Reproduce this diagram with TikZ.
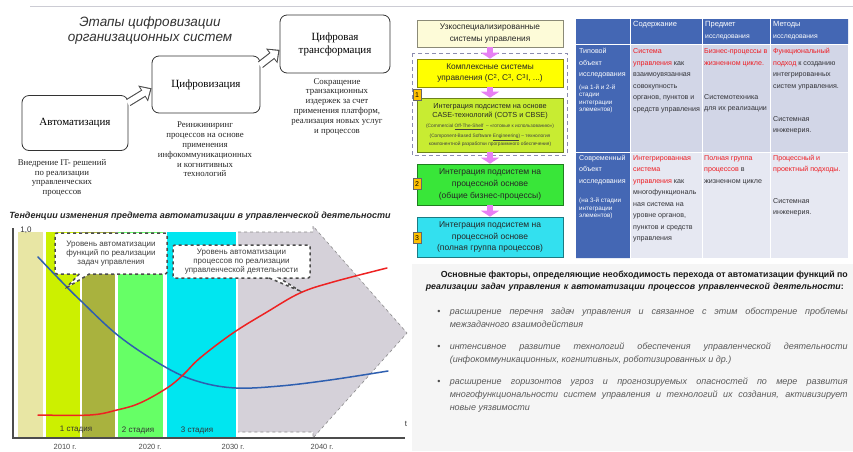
\documentclass[tikz,border=0pt]{standalone}
\usepackage{fontspec}
\setmainfont{Liberation Sans}
\newfontfamily\timesru{Liberation Serif}
\usetikzlibrary{arrows.meta,shapes.callouts}

\newlength{\du}
\setlength{\du}{1pt}

\definecolor{tabblue}{rgb}{0.267,0.404,0.706}
\definecolor{rowone}{rgb}{0.824,0.839,0.906}
\definecolor{rowtwo}{rgb}{0.902,0.910,0.949}
\definecolor{redtxt}{rgb}{0.933,0.110,0.133}
\definecolor{celltxt}{rgb}{0.20,0.20,0.22}
\definecolor{badgeor}{rgb}{1.000,0.753,0.000}
\definecolor{flowviolet}{rgb}{0.906,0.502,0.957}
\definecolor{boxcream}{rgb}{0.992,0.984,0.847}
\definecolor{boxyellow}{rgb}{1.000,1.000,0.000}
\definecolor{boxlime}{rgb}{0.784,0.925,0.196}
\definecolor{boxgreen}{rgb}{0.224,0.902,0.224}
\definecolor{boxcyan}{rgb}{0.200,0.878,0.937}
\definecolor{greyarrow}{rgb}{0.835,0.820,0.851}

\tikzset{
  stagebox/.style={draw=black!80, line width=0.8pt, rounded corners=7pt, fill=white,
    align=center, inner sep=0pt, font=\timesru\fontsize{11}{13}\selectfont},
  stagenote/.style={anchor=north, align=center, inner sep=0pt, text=black!85,
    font=\timesru\fontsize{8.8}{9.8}\selectfont},
  hollowout/.style={line width=8pt, black!70, -{Triangle[length=10pt,width=18pt]}},
  hollowin/.style={line width=5.8pt, white, -{Triangle[length=7.3pt,width=13.5pt]},
    shorten >=1.7pt, shorten <=-1pt},
  flowbox/.style={draw=#1!55!black, line width=0.6pt, fill=#1, minimum width=146\du,
    align=center, inner sep=0pt, text=black!85},
  flowarrow/.style={line width=6pt, flowviolet, -{Triangle[length=6pt,width=18pt]}},
  badge/.style={draw=black!60, line width=0.4pt, fill=badgeor, minimum width=8\du,
    minimum height=11\du, inner sep=0pt, font=\fontsize{7}{7}\selectfont},
  callbox/.style={rectangle callout, draw=black!70, dashed, fill=white, rounded corners=2pt,
    align=center, inner sep=0pt, text=black!75, callout pointer width=10\du,
    font=\fontsize{8}{8.6}\selectfont},
  chartlabel/.style={inner sep=0pt, text=black!80, font=\fontsize{8}{8}\selectfont},
  yearlabel/.style={inner sep=0pt, text=black!70, font=\fontsize{7.5}{7.5}\selectfont},
  cell/.style={anchor=north west, inner sep=0pt, align=left, text=celltxt,
    font=\fontsize{7.1}{11.5}\selectfont},
  smallcell/.style={anchor=north west, inner sep=0pt, align=left, text=white,
    font=\fontsize{6.3}{7.5}\selectfont},
  headcell/.style={anchor=north west, inner sep=0pt, align=left, text=white,
    font=\fontsize{7.5}{12}\selectfont},
  factline/.style={anchor=north west, inner sep=0pt, align=left, text=black!65,
    font=\itshape\fontsize{9}{13}\selectfont},
}

\begin{document}
\begin{tikzpicture}
\pgftransformxscale{1.000000}
\pgftransformyscale{-1.000000}
\useasboundingbox (0\du,0\du) rectangle (853\du,451\du);
% background
\fill[white] (0\du,0\du) rectangle (853\du,451\du);
\fill[black!4] (412\du,264\du) rectangle (853\du,451\du);
\draw[line width=1pt, blue!15!black!20] (30\du,6\du) -- (853\du,6\du);

% stages of digitalization
\node[font=\itshape\fontsize{13.5}{15}\selectfont, align=center, text=black!80] (title) at (150\du,31\du) {Этапы цифровизации\\организационных систем};
\node[stagebox, minimum width=106\du, minimum height=55\du] (avt) at (75\du,123\du) {Автоматизация};
\node[stagebox, minimum width=108\du, minimum height=57\du] (cif) at (206\du,84.5\du) {Цифровизация};
\node[stagebox, minimum width=110\du, minimum height=58\du] (trn) at (335\du,44\du) {Цифровая\\трансформация};
\draw[hollowout] (avt.21) -- (cif.184);
\draw[hollowin] (avt.21) -- (cif.184);
\draw[hollowout] (cif.20) -- (trn.186);
\draw[hollowin] (cif.20) -- (trn.186);
\node[stagenote] (avtnote) at (62\du,159\du) {Внедрение IT- решений\\по реализации\\управленческих\\процессов};
\node[stagenote] (cifnote) at (205\du,122\du) {Реинжиниринг\\процессов на основе\\применения\\инфокоммуникационных\\и когнитивных\\технологий};
\node[stagenote] (trnnote) at (337\du,78\du) {Сокращение\\транзакционных\\издержек за счет\\применения платформ,\\реализация новых услуг\\и процессов};

% integration of subsystems
\draw[dashed, line width=0.8pt, blue!30!black!45, dash pattern=on 4pt off 3pt] (412\du,53\du) rectangle (567\du,155\du);
\node[flowbox=boxcream, minimum height=27\du, font=\fontsize{8.3}{11.5}\selectfont] (narrow) at (490\du,33.5\du) {Узкоспециализированные\\системы управления};
\node[flowbox=boxyellow, minimum height=28\du, font=\fontsize{8.3}{12}\selectfont] (complex) at (490\du,73\du) {Комплексные системы\\управления (C\textsuperscript{2}, C\textsuperscript{3}, C\textsuperscript{3}I, ...)};
\node[flowbox=boxlime, minimum height=54\du] (casebox) at (490\du,125\du) {};
\node[inner sep=0pt, align=center, text=black!85, font=\fontsize{7.3}{8.5}\selectfont] (casetxt) at (490\du,111\du) {Интеграция подсистем на основе\\CASE-технологий (COTS и CBSE)};
\node[inner sep=0pt, text=black!75, font=\fontsize{4.8}{5}\selectfont] (cots) at (490\du,127\du) {(Commercial \underline{Off-The-Shelf}~ -- «готовые к использованию»)};
\node[inner sep=0pt, align=center, text=black!75, font=\fontsize{4.8}{5.2}\selectfont] (cbse) at (490\du,140\du) {(Component-Based Software \underline{Engineering}) -- технология\\компонентной разработки программного обеспечения)};
\node[flowbox=boxgreen, minimum height=41\du, font=\fontsize{8.5}{12}\selectfont] (common) at (490\du,184.5\du) {Интеграция подсистем на\\процессной основе\\(общие бизнес-процессы)};
\node[flowbox=boxcyan, minimum height=40\du, font=\fontsize{8.5}{11.5}\selectfont] (full) at (490\du,237\du) {Интеграция подсистем на\\процессной основе\\(полная группа процессов)};
\draw[flowarrow] (narrow.south) -- (complex.north);
\draw[flowarrow] (complex.south) -- (casebox.north);
\draw[flowarrow] (casebox.south) -- (common.north);
\draw[flowarrow] (common.south) -- (full.north);
\node[badge] (n1) at (417\du,95\du) {1};
\node[badge] (n2) at (417\du,184\du) {2};
\node[badge] (n3) at (417\du,238\du) {3};

% comparison table
\definecolor{dialinecolor}{rgb}{0.267, 0.404, 0.706}
\pgfsetfillcolor{dialinecolor}
\fill (576\du,19\du)--(576\du,258\du)--(630\du,258\du)--(630\du,44\du)--(848\du,44\du)--(848\du,19\du)--cycle;
\definecolor{dialinecolor}{rgb}{0.824, 0.839, 0.906}
\pgfsetfillcolor{dialinecolor}
\fill (630\du,44\du)--(630\du,152\du)--(848\du,152\du)--(848\du,44\du)--cycle;
\definecolor{dialinecolor}{rgb}{0.902, 0.910, 0.949}
\pgfsetfillcolor{dialinecolor}
\fill (630\du,152\du)--(630\du,258\du)--(848\du,258\du)--(848\du,152\du)--cycle;
\draw[white, line width=0.8pt] (630\du,19\du) -- (630\du,258\du) (702\du,19\du) -- (702\du,258\du) (770\du,19\du) -- (770\du,258\du);
\draw[white, line width=0.8pt] (576\du,44\du) -- (848\du,44\du) (576\du,152\du) -- (848\du,152\du);
\node[headcell] (hcont) at (633\du,21.5\du) {Содержание};
\node[headcell] (hsubj) at (705\du,21.5\du) {Предмет\\{\fontsize{6.8}{6.8}\selectfont исследования}};
\node[headcell] (hmeth) at (773\du,21.5\du) {Методы\\{\fontsize{6.8}{6.8}\selectfont исследования}};
\node[cell, text=white] (typobj) at (579\du,48.5\du) {Типовой\\объект\\исследования};
\node[smallcell] (typstage) at (579\du,84.5\du) {(на 1-й и 2-й\\стадии\\интеграции\\элементов)};
\node[cell] (typcont) at (633\du,48.5\du) {\textcolor{redtxt}{Система}\\\textcolor{redtxt}{управления} как\\взаимоувязанная\\совокупность\\органов, пунктов и\\средств управления};
\node[cell] (typsubj) at (704\du,48.5\du) {\textcolor{redtxt}{Бизнес-процессы в}\\\textcolor{redtxt}{жизненном цикле.}\\[22.5pt]Системотехника\\для их реализации};
\node[cell] (typmeth) at (773\du,48.5\du) {\textcolor{redtxt}{Функциональный}\\\textcolor{redtxt}{подход} к созданию\\интегрированных\\систем управления.\\[21.5pt]Системная\\инженерия.};
\node[cell, text=white] (modobj) at (579\du,155\du) {Современный\\объект\\исследования};
\node[smallcell] (modstage) at (579\du,198\du) {(на 3-й стадии\\интеграции\\элементов)};
\node[cell] (modcont) at (633\du,155\du) {\textcolor{redtxt}{Интегрированная}\\\textcolor{redtxt}{система}\\\textcolor{redtxt}{управления} как\\многофункциональ\\ная система на\\уровне органов,\\пунктов и средств\\управления};
\node[cell] (modsubj) at (704\du,155\du) {\textcolor{redtxt}{Полная группа}\\\textcolor{redtxt}{процессов} в\\жизненном цикле};
\node[cell] (modmeth) at (773\du,155\du) {\textcolor{redtxt}{Процессный и}\\\textcolor{redtxt}{проектный подходы.}\\[20pt]Системная\\инженерия.};

% trend chart
\node[inner sep=0pt, text=black!85, font=\bfseries\itshape\fontsize{9}{9}\selectfont] (chtitle) at (200\du,216\du) {Тенденции изменения предмета автоматизации в управленческой деятельности};
\definecolor{dialinecolor}{rgb}{0.835, 0.820, 0.851}
\pgfsetfillcolor{dialinecolor}
\fill (238\du,232\du)--(313\du,232\du)--(313\du,226\du)--(407\du,333\du)--(313\du,438\du)--(313\du,432\du)--(238\du,432\du)--cycle;
\draw[black!45, dashed, line width=0.6pt] (238\du,232\du)--(313\du,232\du)--(313\du,226\du)--(407\du,333\du)--(313\du,438\du)--(313\du,432\du)--(238\du,432\du);
\definecolor{dialinecolor}{rgb}{0.910, 0.902, 0.643}
\pgfsetfillcolor{dialinecolor}
\fill (18\du,232\du)--(18\du,438\du)--(43\du,438\du)--(43\du,232\du)--cycle;
\definecolor{dialinecolor}{rgb}{0.800, 0.941, 0.000}
\pgfsetfillcolor{dialinecolor}
\fill (46\du,232\du)--(46\du,438\du)--(80\du,438\du)--(80\du,232\du)--cycle;
\definecolor{dialinecolor}{rgb}{0.663, 0.698, 0.243}
\pgfsetfillcolor{dialinecolor}
\fill (82\du,232\du)--(82\du,438\du)--(115\du,438\du)--(115\du,232\du)--cycle;
\definecolor{dialinecolor}{rgb}{0.400, 1.000, 0.400}
\pgfsetfillcolor{dialinecolor}
\fill (118\du,232\du)--(118\du,438\du)--(163\du,438\du)--(163\du,232\du)--cycle;
\definecolor{dialinecolor}{rgb}{0.000, 0.902, 0.941}
\pgfsetfillcolor{dialinecolor}
\fill (167\du,232\du)--(167\du,438\du)--(236\du,438\du)--(236\du,232\du)--cycle;
% curves
\pgfsetlinewidth{1.5\du}
\definecolor{dialinecolor}{rgb}{0.180, 0.373, 0.690}
\pgfsetstrokecolor{dialinecolor}
\draw[line cap=round] plot[smooth, tension=0.6] coordinates {(38\du,257\du) (60\du,280\du) (80\du,300\du) (120\du,337\du) (167\du,368\du) (200\du,382\du) (236\du,388\du) (280\du,386\du) (330\du,380\du) (388\du,371\du)};
\definecolor{dialinecolor}{rgb}{0.933, 0.133, 0.133}
\pgfsetstrokecolor{dialinecolor}
\draw[line cap=round] plot[smooth, tension=0.6] coordinates {(38\du,415\du) (90\du,415\du) (117\du,410\du) (140\du,403\du) (167\du,388\du) (183\du,375\du) (200\du,358\du) (233\du,333\du) (267\du,312\du) (300\du,293\du) (333\du,282\du) (387\du,268\du)};
% callouts
\coordinate (p1) at (66\du,288\du);
\coordinate (p2) at (300\du,291\du);
\node[callbox, minimum width=112\du, minimum height=41\du, callout absolute pointer={(p1)}] (c1) at (111\du,253.5\du) {Уровень автоматизации\\функций по реализации\\задач управления};
\node[callbox, minimum width=137\du, minimum height=33\du, callout absolute pointer={(p2)}] (c2) at (241.5\du,261.5\du) {Уровень автоматизации\\процессов по реализации\\управленческой деятельности};
% axes
\coordinate (origin) at (13\du,438\du);
\coordinate (ytop) at (13\du,228\du);
\coordinate (xend) at (405\du,438\du);
\draw[black!70, line width=1.2pt] (ytop) -- (origin) -- (xend);
\node[chartlabel] (one) at (26\du,230\du) {1,0};
\node[chartlabel] (tlab) at (406\du,424\du) {t};
\node[chartlabel] (st1) at (76\du,430\du) {1 стадия};
\node[chartlabel] (st2) at (138\du,430\du) {2 стадия};
\node[chartlabel] (st3) at (197\du,430\du) {3 стадия};
\node[yearlabel] (y10) at (65\du,447\du) {2010 г.};
\node[yearlabel] (y20) at (150\du,447\du) {2020 г.};
\node[yearlabel] (y30) at (233\du,447\du) {2030 г.};
\node[yearlabel] (y40) at (322\du,447\du) {2040 г.};

% main factors
\node[anchor=west, inner sep=0pt, text=black!90, font=\bfseries\fontsize{8.8}{8.8}\selectfont] (fhead) at (440\du,275\du) {\makebox[407\du][s]{Основные факторы, определяющие необходимость перехода от автоматизации функций по}};
\node[anchor=west, inner sep=0pt, text=black!90, font=\bfseries\itshape\fontsize{8.8}{8.8}\selectfont] (fhead2) at (425\du,287.5\du) {\makebox[418\du][s]{реализации задач управления к автоматизации процессов управленческой деятельности\textup{:}}};
\node[inner sep=0pt, text=black!70, font=\fontsize{9}{9}\selectfont] (dot1) at (439\du,312\du) {•};
\node[inner sep=0pt, text=black!70, font=\fontsize{9}{9}\selectfont] (dot2) at (439\du,347\du) {•};
\node[inner sep=0pt, text=black!70, font=\fontsize{9}{9}\selectfont] (dot3) at (439\du,382\du) {•};
\node[factline] (fact1) at (449\du,307.5\du) {\makebox[398\du][s]{расширение перечня задач управления и связанное с этим обострение проблемы}\\межзадачного взаимодействия};
\node[factline] (fact2) at (449\du,342.5\du) {\makebox[398\du][s]{интенсивное развитие технологий обеспечения управленческой деятельности}\\(инфокоммуникационных, когнитивных, роботизированных и др.)};
\node[factline] (fact3) at (449\du,377.5\du) {\makebox[398\du][s]{расширение горизонтов угроз и прогнозируемых опасностей по мере развития}\\\makebox[398\du][s]{многофункциональности систем управления и технологий их создания, активизирует}\\новые уязвимости};
\end{tikzpicture}
\end{document}
